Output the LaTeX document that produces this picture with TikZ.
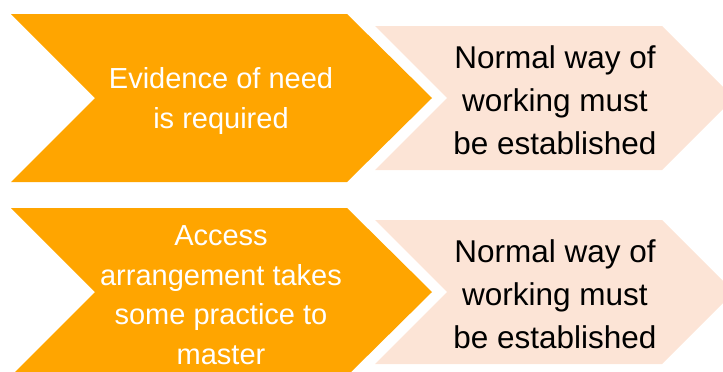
\documentclass[tikz,border=0pt]{standalone}
\usepackage{fontspec}
\setmainfont{Liberation Sans}
\usepackage{tikz}
\usepackage{xcolor}
\usetikzlibrary{positioning}

\definecolor{stageorange}{HTML}{FFA500}
\definecolor{stagepeach}{HTML}{FCE4D6}

\tikzset{
    causetext/.style={align=center, text=white, font=\fontsize{29}{39.5}\selectfont},
    effecttext/.style={align=center, text=black, font=\fontsize{31.5}{43}\selectfont}
}

\begin{document}
\begin{tikzpicture}[x=1pt, y=-1pt]

            % Settings
            \def\rowstep{194}
            \useasboundingbox (0,0) rectangle (723,372);
            \clip (0,0) rectangle (723,372);

            % One row per access arrangement
            \foreach \i/\txt in {0/{Evidence of need\\is required}, 1/{Access\\arrangement takes\\some practice to\\master}} {
                    % Orange chevron
                    \fill[stageorange] (11, \i*\rowstep+14) -- (347, \i*\rowstep+14) -- (432, \i*\rowstep+98)
                        -- (347, \i*\rowstep+182) -- (11, \i*\rowstep+182) -- (95, \i*\rowstep+98) -- cycle;
                    % Peach chevron
                    \fill[stagepeach] (375, \i*\rowstep+26) -- (662, \i*\rowstep+26) -- (734, \i*\rowstep+98)
                        -- (662, \i*\rowstep+170) -- (375, \i*\rowstep+170) -- (447, \i*\rowstep+98) -- cycle;
                    % Texts
                    \node[causetext] (cause\i) at (221, \i*\rowstep+101) {\txt};
                    \node[effecttext] (effect\i) at (555, \i*\rowstep+100) {Normal way of\\working must\\be established};
                }
        \end{tikzpicture}
\end{document}
